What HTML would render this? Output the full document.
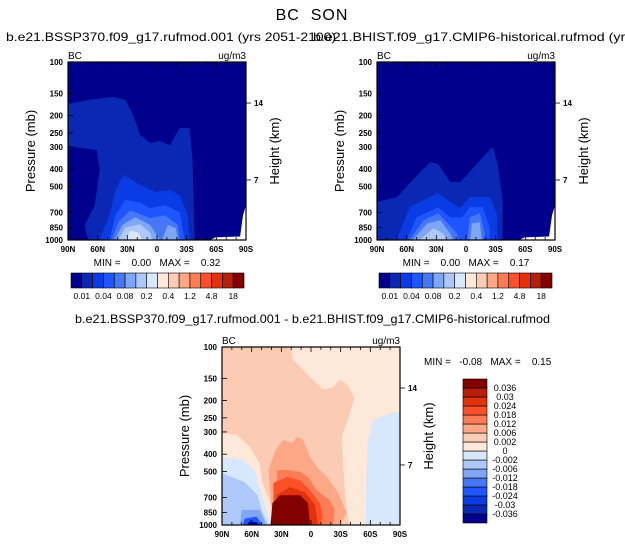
<!DOCTYPE html>
<html><head><meta charset="utf-8"><style>
body{margin:0;background:#fff;width:625px;height:545px;overflow:hidden}
svg{display:block;font-family:"Liberation Sans",sans-serif}
svg text{white-space:pre}
</style></head><body>
<svg id="c" width="625" height="545" xmlns="http://www.w3.org/2000/svg">
<text x="312" y="20" font-size="16" text-anchor="middle" letter-spacing="1">BC  SON</text>
<text x="6" y="41" font-size="12" textLength="330" lengthAdjust="spacingAndGlyphs">b.e21.BSSP370.f09_g17.rufmod.001 (yrs 2051-2100)</text>
<text x="313" y="41" font-size="12" textLength="396" lengthAdjust="spacingAndGlyphs">b.e21.BHIST.f09_g17.CMIP6-historical.rufmod (yrs 1965-2014)</text>
<text x="75" y="323" font-size="12" textLength="475" lengthAdjust="spacingAndGlyphs">b.e21.BSSP370.f09_g17.rufmod.001 - b.e21.BHIST.f09_g17.CMIP6-historical.rufmod</text>
</svg>
<script>
const colors=["#00008c","#0a28b4","#0a3ce6","#1e55ff","#4678f5","#7ea6f5","#afc8fa","#d7e8fc","#fde8da","#fccbb4","#fca886","#fc7d55","#fc5028","#e1320a","#b41e0a","#820000"];
const latTicks=[90,60,30,0,-30,-60,-90];
const latLabels=["90N","60N","30N","0","30S","60S","90S"];
const presTicks=[100,150,200,250,300,400,500,700,850,1000];
const heightTicks=[14,7];
const heightPres=[170,460];
const topBarLabels=["0.01","0.04","0.08","0.2","0.4","1.2","4.8","18"];
const diffBarLabels=["0.036","0.03","0.024","0.018","0.012","0.006","0.002","0","-0.002","-0.006","-0.012","-0.018","-0.024","-0.03","-0.036"];
const missing=[[-54,1000],[-59,966],[-84,955],[-87,726],[-90,638],[-90,1000]];
const futureContours=[
 [1,[[90,172],[68,163],[44,157],[32,163],[24,199],[17,257],[7,285],[-3,278],[-13,293],[-23,235],[-33,235],[-36,355],[-38,1000],[70,1000],[73,823],[63,638],[58,405],[61,312],[90,297]]],
 [2,[[34,431],[17,491],[2,537],[-13,524],[-23,560],[-31,726],[-33,1000],[58,1000],[48,726],[42,524]]],
 [3,[[48,1000],[42,726],[32,596],[17,618],[7,661],[-8,637],[-23,697],[-28,1000]]],
 [4,[[46,1000],[39,794],[27,680],[7,753],[-8,726],[-21,823],[-23,1000]]],
 [5,[[43,1000],[35,823],[22,745],[7,823],[-3,1000]]],
 [5,[[-5,1000],[-11,823],[-19,860],[-21,1000]]],
 [6,[[39,1000],[32,849],[17,815],[7,908],[5,1000]]],
 [7,[[32,1000],[27,884],[19,908],[15,1000]]]
];
const histContours=[
 [1,[[90,612],[70,574],[47,420],[36,365],[28,374],[16,472],[6,472],[-1,431],[-17,342],[-27,300],[-32,370],[-37,596],[-37,1000],[90,1000]]],
 [2,[[70,1000],[57,655],[29,545],[6,663],[-4,574],[-24,574],[-31,707],[-32,1000]]],
 [3,[[60,1000],[50,745],[28,655],[16,745],[4,745],[-4,655],[-17,655],[-24,849],[-24,1000]]],
 [4,[[57,1000],[43,775],[28,707],[9,920],[8,1000]]],
 [4,[[-1,1000],[-4,745],[-14,707],[-19,920],[-17,1000]]],
 [5,[[54,1000],[39,808],[26,775],[16,920],[13,1000]]],
 [5,[[-4,1000],[-6,808],[-14,794],[-16,1000]]],
 [6,[[47,1000],[33,860],[23,920],[19,1000]]]
];
const diffContours=[
 [9,[[90,100],[21,100],[18,118],[1,147],[-12,174],[-22,168],[-29,153],[-37,163],[-44,194],[-36,268],[-31,320],[-32,380],[-34,612],[-36,823],[-39,1000],[36,1000],[41,753],[49,581],[52,449],[62,365],[75,312],[90,304]]],
 [7,[[90,415],[69,431],[57,491],[52,612],[45,823],[39,1000],[90,1000]]],
 [6,[[90,511],[67,574],[54,680],[50,823],[43,1000],[90,1000]]],
 [5,[[72,1000],[70,823],[52,823],[45,1000]]],
 [3,[[69,1000],[67,920],[55,896],[49,1000]]],
 [0,[[65,1000],[62,955],[55,966],[52,1000]]],
 [7,[[-55,1000],[-57,346],[-63,257],[-80,235],[-90,232],[-90,1000]]],
 [10,[[38,980],[41,697],[43,491],[36,380],[28,333],[19,346],[14,320],[8,333],[1,415],[-6,472],[-16,537],[-26,638],[-32,753],[-36,860],[-29,1000],[38,1000]]],
 [11,[[39,1000],[36,775],[34,491],[24,491],[11,503],[3,537],[-6,638],[-19,726],[-24,823],[-22,1000]]],
 [12,[[38,1000],[38,581],[24,537],[11,560],[1,638],[-9,753],[-12,908],[-9,1000]]],
 [13,[[36,1000],[35,680],[21,612],[6,655],[-4,775],[-7,1000]]],
 [15,[[41,1000],[39,753],[31,680],[11,680],[3,753],[1,1000]]]
];
const NS="http://www.w3.org/2000/svg";
const svg=document.getElementById('c');
function mk(tag,attrs,parent){const e=document.createElementNS(NS,tag);for(const k in attrs)e.setAttribute(k,attrs[k]);(parent||svg).appendChild(e);return e;}
function txt(x,y,s,size,anchor,parent){const t=mk('text',{x:x,y:y,'font-size':size,'text-anchor':anchor||'start'},parent);t.textContent=s;return t;}
const W=178,H=178;
function panel(name,L,T,bgLevel,contours,withMissing){
 const g=mk('g',{});
 
 
 const xs=lat=>L+(90-lat)/180*W;
 const ys=p=>T+Math.log10(p/100)*H;
 const bg=mk('rect',{x:L,y:T,width:W,height:H,fill:colors[bgLevel]},g);
 
 
 contours.forEach(([lev,pts])=>{
  const pg=mk('polygon',{points:pts.map(q=>xs(q[0]).toFixed(1)+','+ys(q[1]).toFixed(1)).join(' '),fill:colors[lev]},g);
  
  
 });
 if(withMissing){
  const m=mk('polygon',{points:missing.map(q=>xs(q[0])+','+ys(q[1])).join(' '),fill:'#fff'},g);
  
  
 }
 mk('rect',{x:L,y:T,width:W,height:H,fill:'none',stroke:'#000','stroke-width':1.2},g);
 for(let lat=90;lat>=-90;lat-=10){
  const x=xs(lat),maj=lat%30===0;
  mk('line',{x1:x,x2:x,y1:T+H,y2:T+H-(maj?5:3),stroke:'#000','stroke-width':0.8},g);
  mk('line',{x1:x,x2:x,y1:T,y2:T+(maj?5:3),stroke:'#000','stroke-width':0.8},g);
 }
 latTicks.forEach((lat,i)=>{const t=txt(xs(lat),T+H+12,latLabels[i],8,'middle',g);t.setAttribute('font-weight','bold');});
 presTicks.forEach(p=>{const y=ys(p);mk('line',{x1:L,x2:L+5,y1:y,y2:y,stroke:'#000','stroke-width':0.8},g);
  const t=txt(L-5,y+3,String(p),8,'end',g);t.setAttribute('font-weight','bold');});
 heightTicks.forEach((h,i)=>{const y=ys(heightPres[i]);mk('line',{x1:L+W,x2:L+W+5,y1:y,y2:y,stroke:'#000','stroke-width':0.8},g);
  const t=txt(L+W+8,y+3,String(h),8,'start',g);t.setAttribute('font-weight','bold');});
 const yt=txt(0,0,'Pressure (mb)',13,'middle',g);yt.setAttribute('transform','translate('+(L-33)+','+(T+H/2)+') rotate(-90)');
 
 const ht=txt(0,0,'Height (km)',13,'middle',g);ht.setAttribute('transform','translate('+(L+W+33)+','+(T+H/2)+') rotate(-90)');
 
 const a=txt(L,T-3,'BC',10,'start',g);
 const u=txt(L+W,T-3,'ug/m3',10,'end',g);
}
panel('future-panel',68,62,0,futureContours,true);
panel('historical-panel',377,62,0,histContours,true);
panel('difference-panel',222,347,8,diffContours,false);
function hbar(name,L,T,w,h){
 const g=mk('g',{});
 
 
 const bw=w/colors.length;
 colors.forEach((c,i)=>{const r=mk('rect',{x:L+i*bw,y:T,width:bw,height:h,fill:c,stroke:'#000','stroke-width':0.6},g);
  });
 topBarLabels.forEach((s,i)=>{const t=txt(L+(2*i+1)*bw,T+h+11,s,8.5,'middle',g);});
}
hbar('future-colorbar',71,273,173,15);
hbar('historical-colorbar',379,273,173,15);
const m1=txt(157,266,'MIN =    0.00   MAX =    0.32',10,'middle');
const m2=txt(466,266,'MIN =    0.00   MAX =    0.17',10,'middle');
const m3=txt(424,365,'MIN =   -0.08   MAX =    0.15',10,'start');
(function(){
 const g=mk('g',{});
 
 
 const L=463,T=379,w=24,h=144,bh=h/colors.length;
 colors.forEach((c,i)=>{const r=mk('rect',{x:L,y:T+h-(i+1)*bh,width:w,height:bh,fill:c,stroke:'#000','stroke-width':0.6},g);
  });
 diffBarLabels.forEach((s,i)=>{const t=txt(505,T+(i+1)*bh+3,s,9,'middle',g);});
})();
</script>
</body></html>
